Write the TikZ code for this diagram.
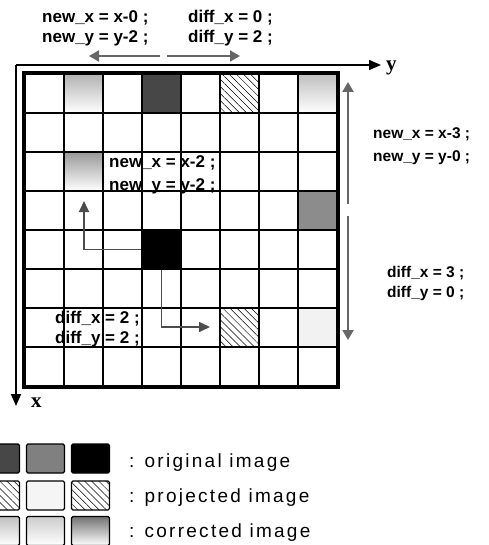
\documentclass[tikz,border=0pt]{standalone}
\usepackage{fontspec}
\setmainfont{Liberation Sans}
\newfontfamily\legfont{Liberation Sans}[LetterSpace=12]
\newfontfamily\axfont{Liberation Serif}
\usetikzlibrary{arrows.meta, positioning, calc, patterns.meta}

\begin{document}
\begin{tikzpicture}[x=1pt, y=-1pt,
    cell/.style={rectangle, draw=black, line width=1.6pt,
                 minimum width=39pt, minimum height=39pt, inner sep=0pt},
    swatch/.style={rectangle, rounded corners=1.5pt, draw=black, line width=1.4pt,
                   minimum width=38pt, minimum height=29pt, inner sep=0pt},
    hatch/.style={pattern={Lines[angle=-45,distance=5pt,line width=0.5pt]}},
    corr/.style={top color=black!#1, middle color=white, bottom color=white},
    lbl/.style={font=\fontsize{17}{20}\selectfont\bfseries, inner sep=0pt, anchor=base west},
    lblsm/.style={lbl, font=\fontsize{15.5}{18}\selectfont\bfseries},
    leg/.style={font=\legfont\fontsize{19}{22}\selectfont, inner sep=0pt, anchor=base west},
    axlbl/.style={font=\axfont\fontsize{21}{24}\selectfont\bfseries, inner sep=0pt, anchor=base west},
    axisarr/.style={line width=1.5pt, -{Triangle[length=12pt,width=10pt]}},
    diffarr/.style={draw=black!60, line width=2pt, -{Triangle[length=10pt,width=11pt]}},
    movearr/.style={draw=black!70, line width=1.6pt, -{Triangle[length=11pt,width=10pt]}}
  ]
  \useasboundingbox (0,0) rectangle (488,545);

  % 8x8 grid
  \foreach \r in {0,...,7}
    \foreach \c in {0,...,7}
      \node[cell] (c\r-\c) at ({44.5+39*\c},{93.5+39*\r}) {};

  % original / projected / corrected pixels
  \node[cell, fill=black!72] (o1) at (c0-3) {};
  \node[cell, fill=black!45] (o2) at (c3-7) {};
  \node[cell, fill=black] (o3) at (c4-3) {};
  \node[cell, hatch] (p1) at (c0-5) {};
  \node[cell, fill=black!5] (p2) at (c6-7) {};
  \node[cell, hatch] (p3) at (c6-5) {};
  \node[cell, corr=30] (r1) at (c0-1) {};
  \node[cell, corr=25] (r2) at (c0-7) {};
  \node[cell, corr=40] (r3) at (c2-1) {};

  \draw[line width=4pt] (c0-0.north west) rectangle (c7-7.south east);

  % axes
  \coordinate (org) at (16,65);
  \coordinate (yend) at (381,65);
  \coordinate (xend) at (16,406);
  \draw[axisarr] (org) -- (yend);
  \draw[axisarr] (org) -- (xend);
  \node[axlbl] (ylab) at (386,71) {y};
  \node[axlbl] (xlab) at (31,407) {x};

  % top shift
  \node[lbl] (nx0) at (42,23) {new\_x = x-0 ;};
  \node[lbl] (ny0) at (42,43) {new\_y = y-2 ;};
  \node[lbl] (dx0) at (188,23) {diff\_x = 0 ;};
  \node[lbl] (dy0) at (188,43) {diff\_y = 2 ;};
  \coordinate (tl0) at (160,56);
  \coordinate (tl1) at (89,56);
  \coordinate (tr0) at (167,56);
  \coordinate (tr1) at (240,56);
  \draw[diffarr] (tl0) -- (tl1);
  \draw[diffarr] (tr0) -- (tr1);

  % right shift
  \node[lblsm] (nx3) at (373,139) {new\_x = x-3 ;};
  \node[lblsm] (ny3) at (373,162) {new\_y = y-0 ;};
  \node[lblsm] (dx3) at (387,277) {diff\_x = 3 ;};
  \node[lblsm] (dy3) at (387,297) {diff\_y = 0 ;};
  \coordinate (ru0) at (348,204);
  \coordinate (ru1) at (348,82);
  \coordinate (rd0) at (348,216);
  \coordinate (rd1) at (348,340);
  \draw[diffarr] (ru0) -- (ru1);
  \draw[diffarr] (rd0) -- (rd1);

  % inner shift
  \node[lbl] (nx2) at (109,168) {new\_x = x-2 ;};
  \node[lbl] (ny2) at (109,190) {new\_y = y-2 ;};
  \node[lbl] (dx2) at (55,323) {diff\_x = 2 ;};
  \node[lbl] (dy2) at (55,343) {diff\_y = 2 ;};
  \coordinate (up1) at (84,201);
  \coordinate (rt1) at (210,327);
  \draw[movearr] (o3.west) -| (up1);
  \draw[movearr] (o3.south) |- (rt1);

  % legend
  \node[swatch, fill=black!72] (lo1) at (0.5,458.5) {};
  \node[swatch, fill=black!50] (lo2) at (45.5,458.5) {};
  \node[swatch, fill=black] (lo3) at (90.5,458.5) {};
  \node[swatch, hatch] (lp1) at (0.5,495.5) {};
  \node[swatch, fill=black!4] (lp2) at (45.5,495.5) {};
  \node[swatch, hatch] (lp3) at (90.5,495.5) {};
  \node[swatch, corr=25] (lc1) at (0.5,531) {};
  \node[swatch, corr=20] (lc2) at (45.5,531) {};
  \node[swatch, corr=55] (lc3) at (90.5,531) {};
  \node[leg] (to) at (129,467) {: original image};
  \node[leg] (tp) at (129,502) {: projected image};
  \node[leg] (tc) at (129,537) {: corrected image};
\end{tikzpicture}
\end{document}
